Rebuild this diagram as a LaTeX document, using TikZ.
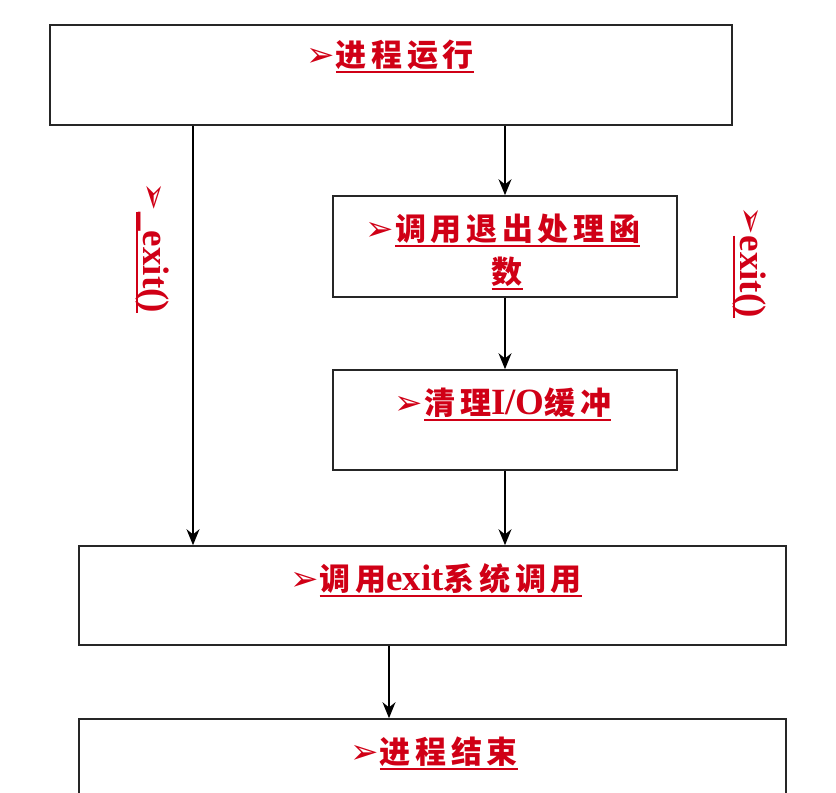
\documentclass[tikz,border=0pt]{standalone}
\usepackage{fontspec}
\usetikzlibrary{arrows.meta}
\setmainfont{Liberation Serif}
\newfontfamily\cjk{Noto Sans CJK SC}[LetterSpace=15]
\newfontfamily\sym{DejaVu Sans}
\definecolor{myred}{RGB}{208,0,22}
\newsavebox\ulbox
\newcommand\ulx[1]{\sbox\ulbox{#1}\rlap{\rule[-7pt]{\wd\ulbox}{1.8pt}}\usebox\ulbox}
\newcommand\ex[1]{{\fontsize{37}{40}\selectfont\bfseries #1}}
\newcommand\cj[1]{{\cjk\bfseries #1}}
\newcommand\arw{{\sym\fontsize{34}{36}\selectfont ➢}\kern1pt}
\begin{document}
\begin{tikzpicture}[x=1pt,y=-1pt,
  box/.style={draw=black!85, line width=1.6pt, inner sep=0pt, rectangle},
  arr/.style={-{Stealth[length=16pt,width=13pt]}, line width=1.4pt},
  lab/.style={text=myred, inner sep=0pt, anchor=base, font=\fontsize{31}{36}\selectfont}]
\useasboundingbox (0,0) rectangle (836,793);
\clip (0,0) rectangle (836,793);
\node[box, minimum width=682pt, minimum height=100pt] (top) at (391,75) {};
\node[box, minimum width=344pt, minimum height=101pt] (b2) at (505,246.5) {};
\node[box, minimum width=344pt, minimum height=100pt] (b3) at (505,420) {};
\node[box, minimum width=707pt, minimum height=99pt] (b4) at (432.5,595.5) {};
\node[box, minimum width=707pt, minimum height=120pt] (b5) at (432.5,779) {};
%
\node[lab] (t1) at (390,66) {\arw\ulx{\cj{进程运行}}};
\node[lab] (t2) at (503,240) {\arw\ulx{\cj{调用退出处理函}}};
\node[lab] (t2b) at (507,283) {\ulx{\cj{数}}};
\node[lab] (t3) at (503,414) {\arw\ulx{\cj{清理}\ex{I/O}\cj{缓冲}}};
\node[lab] (t4) at (436,590) {\arw\ulx{\cj{调用}\ex{exit}\cj{系统调用}}};
\node[lab] (t5) at (434,763) {\arw\ulx{\cj{进程结束}}};
%
\node[text=myred, inner sep=0pt, rotate=-90] (l1) at (152,248) {\arw\ulx{\ex{\_exit()}}};
\node[text=myred, inner sep=0pt, rotate=-90] (l2) at (749,262) {\arw\ulx{\ex{exit()}}};
%
\coordinate (lx) at (193,0);
\coordinate (dx) at (389,0);
\draw[arr] (lx |- top.south) -- (lx |- b4.north);
\draw[arr] (b2.north |- top.south) -- (b2.north);
\draw[arr] (b2.south) -- (b3.north);
\draw[arr] (b3.south) -- (b3.south |- b4.north);
\draw[arr] (dx |- b4.south) -- (dx |- b5.north);
\end{tikzpicture}
\end{document}
